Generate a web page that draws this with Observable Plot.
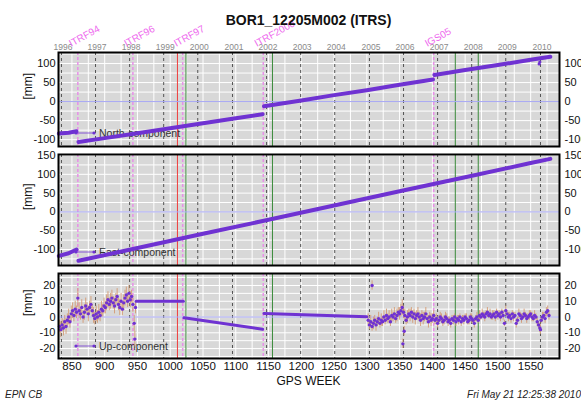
<!DOCTYPE html>
<html><head><meta charset="utf-8">
<script src="https://cdn.jsdelivr.net/npm/d3@7"></script>
<script src="https://cdn.jsdelivr.net/npm/@observablehq/plot@0.6"></script>
<style>
body{margin:0;background:#fff;font-family:"Liberation Sans",Arial,sans-serif;}
#wrap{position:relative;width:581px;height:400px;overflow:hidden;}
.abs{position:absolute;}
#title{left:58px;width:501px;top:11px;text-align:center;font-weight:bold;font-size:14px;line-height:18px;color:#111;}
#xlab{left:58px;width:501px;top:373px;text-align:center;font-size:12px;line-height:16px;color:#111;}
#fl{left:5px;top:389px;font-style:italic;font-size:10px;line-height:12px;color:#222;}
#fr{right:0px;top:389px;font-style:italic;font-size:10px;line-height:12px;color:#222;}
</style></head>
<body><div id="wrap">
<div id="p1" class="abs" style="left:0;top:0"></div>
<div id="p2" class="abs" style="left:0;top:150px"></div>
<div id="p3" class="abs" style="left:0;top:269px"></div>
<div id="title" class="abs">BOR1_12205M002 (ITRS)</div>
<div id="xlab" class="abs">GPS WEEK</div>
<div id="fl" class="abs">EPN CB</div>
<div id="fr" class="abs">Fri May 21 12:25:38 2010</div>
</div>
<script>
// ---------- data ----------
const titleText = "BOR1_12205M002 (ITRS)";
const yearLabels = ["1996","1997","1998","1999","2000","2001","2002","2003","2004","2005","2006","2007","2008","2009","2010"];
const yearWeeks  = [834, 886, 938, 990, 1042, 1095, 1147, 1199, 1251, 1304, 1356, 1408, 1460, 1512, 1565];
const frameLabels = ["ITRF94","ITRF96","ITRF97","ITRF2000","IGS05"];
const frameWeeks  = [859, 943, 1019, 1142, 1402];
const redWeeks = [1011];
const greenWeeks = [1024, 1156, 1435, 1470];
const gridWeeks = [850,875,900,925,950,975,1000,1025,1050,1075,1100,1125,1150,1175,1200,1225,1250,1275,1300,1325,1350,1375,1400,1425,1450,1475,1500,1525,1550,1575];
const xTicks = [850,900,950,1000,1050,1100,1150,1200,1250,1300,1350,1400,1450,1500,1550];
const xDomain = [829.5, 1594];

const neTicksN = [-100,-50,0,50,100];
const neTicksE = [-100,-50,0,50,100,150];
const upTicks = [-20,-10,0,10,20];
const gridN = [-100,-75,-50,-25,0,25,50,75,100,125];
const gridE = [-125,-100,-75,-50,-25,0,25,50,75,100,125,150];
const gridU = [-25,-20,-15,-10,-5,0,5,10,15,20,25];

// North component (segments split at frame changes)
const northSeg    = [1,1,1, 2,2,2,2,2,2,2, 3,3,3,3,3,3, 4,4,4,4,4];
const northWeeks  = [830,845,857, 860,900,950,1000,1050,1100,1141, 1143,1200,1250,1300,1350,1401, 1403,1450,1500,1550,1580];
const northValues = [-84,-82,-78, -106,-96,-83,-70,-57,-44,-33, -12,3,17,30,44,58, 70,83,96,110,118];
const northOutWeeks = [1563, 1564];
const northOutValues = [99, 104];

// East component
const eastSeg    = [1,1,1, 2,2,2,2,2,2,2,2,2];
const eastWeeks  = [830,845,857, 860,950,1050,1150,1250,1350,1450,1550,1580];
const eastValues = [-117,-110,-100, -130,-96,-58,-21,17,55,92,130,141];

// Up component: model segments
const upModelSeg    = [1,1, 2,2, 3,3];
const upModelWeeks  = [948,1020, 1021,1141, 1143,1300];
const upModelValues = [10,10, -0.5,-7.8, 2.3,0.2];

// Up component: observations with error bars
const upWeeks = [
 831,833,835,837,839,841,843,845,847,849,851,853,855,857,859,861,863,865,867,869,
 871,873,875,877,879,881,883,885,887,889,891,893,895,897,899,901,903,905,907,909,
 911,913,915,917,919,921,923,925,927,929,931,933,935,937,939,941,943,945,946,947,
 1302,1304,1306,1308,1308,1310,1312,1314,1316,1318,1320,1322,1324,1326,1328,1330,1332,1334,1336,1338,
 1340,1342,1344,1346,1348,1350,1352,1354,1355,1356,1357,1358,1360,1362,1364,1366,1368,1370,1372,1374,
 1376,1378,1380,1382,1384,1386,1388,1390,1392,1394,1396,1398,1400,1402,1404,1406,1408,1410,1412,1414,
 1416,1418,1420,1422,1424,1426,1428,1430,1432,1434,1436,1438,1440,1442,1444,1446,1448,1450,1452,1454,
 1456,1458,1460,1462,1464,1466,1468,1470,1472,1474,1476,1478,1480,1482,1484,1486,1488,1490,1492,1494,
 1496,1498,1500,1502,1504,1506,1508,1510,1512,1514,1516,1518,1520,1522,1524,1526,1528,1530,1532,1534,
 1536,1538,1540,1542,1544,1546,1548,1550,1552,1554,1556,1558,1560,1562,1564,1565,1566,1568,1570,1572,
 1574,1576,1578];
const upValues = [
 -6,-8,-5,-7,-3,-6,-2,0,-3,2,4,1,5,3,12,4,2,6,0,3,
 7,5,2,6,8,4,1,-1,2,0,3,1,5,4,7,6,9,11,8,10,
 12,9,7,11,13,8,6,10,5,9,12,14,10,15,11,13,8,-4,-14,6,
 -2,-5,-3,-6,20,-4,-2,-5,-3,-1,-4,-2,-3,0,-2,1,-1,0,-3,1,
 0,2,-1,1,3,2,4,6,-17,3,-9,1,-2,0,2,1,3,0,2,-1,
 1,2,0,-2,1,-1,0,2,-1,-3,0,-2,-1,1,-2,-1,-4,-2,0,-1,
 -3,-2,0,-1,-3,-2,-4,-1,-2,0,-3,-1,-2,0,-3,-1,-2,0,-1,-3,
 -2,0,-1,-2,-4,-1,0,-2,1,0,2,1,0,2,3,1,2,0,1,2,
 0,3,1,2,0,3,1,-4,4,2,0,1,-1,2,0,1,-4,-2,2,1,
 -1,0,2,1,-1,0,1,2,0,-1,1,0,-3,-5,-7,-8,-2,0,1,-1,
 3,4,1];
const upErrors = [
 4,5,4,5,4,5,4,5,4,5,5,4,5,4,6,5,4,5,4,5,
 5,4,5,4,5,4,5,4,5,4,5,4,5,4,5,4,5,5,4,5,
 5,4,5,4,5,4,5,5,4,5,5,5,4,5,5,4,5,5,5,4,
 4,3,4,3,3,4,3,4,3,4,3,4,3,4,3,4,3,4,3,4,
 3,4,3,4,3,4,4,5,3,4,3,4,3,4,3,4,3,4,3,4,
 3,4,3,4,3,4,3,4,3,4,3,4,3,3,3,3,3,3,3,3,
 3,3,3,3,3,2,3,2,3,2,3,2,3,2,3,2,3,2,3,2,
 3,2,3,2,3,2,3,2,3,2,3,2,3,2,3,2,3,2,3,2,
 3,2,3,2,3,2,3,2,3,2,3,2,3,2,3,2,3,2,3,2,
 3,2,3,2,3,2,3,2,3,2,3,2,3,2,3,3,2,3,2,3,
 3,3,3];

const panelNames = ["North-component","East-component","Up-component"];

// ---------- styling ----------
const purple = "#6f32d2";
const bg = "#d8d8d8";
const fontFamily = "'Liberation Sans', Arial, Helvetica, sans-serif";

const north = northWeeks.map((w,i)=>({w, v:northValues[i], s:northSeg[i]}));
const northOut = northOutWeeks.map((w,i)=>({w, v:northOutValues[i]}));
const east = eastWeeks.map((w,i)=>({w, v:eastValues[i], s:eastSeg[i]}));
const upModel = upModelWeeks.map((w,i)=>({w, v:upModelValues[i], s:upModelSeg[i]}));
const upObs = upWeeks.map((w,i)=>({w, v:upValues[i], e:upErrors[i]}));
const years = yearWeeks.map((w,i)=>({w, label:yearLabels[i]}));

function legendMark(label, up) {
  return (index, scales, values, dims) => {
    const g = d3.create("svg:g");
    const y = dims.height - dims.marginBottom - up;
    const x0 = dims.marginLeft + 18, x1 = dims.marginLeft + 36;
    g.append("line").attr("x1",x0).attr("x2",x1).attr("y1",y).attr("y2",y)
      .attr("stroke",purple).attr("stroke-width",0.8);
    g.append("circle").attr("cx",x0).attr("cy",y).attr("r",1.6).attr("fill",purple);
    g.append("circle").attr("cx",x1).attr("cy",y).attr("r",1.6).attr("fill",purple);
    g.append("text").attr("x",dims.marginLeft+41).attr("y",y).attr("dy","0.35em")
      .attr("text-anchor","start")
      .attr("font-size",10.5).attr("fill","#333").attr("font-family",fontFamily).text(label);
    return g.node();
  };
}

// rotated reference-frame labels, positioned with the x scale
function frameLabelMark(index, scales, values, dims) {
  const g = d3.create("svg:g");
  frameWeeks.forEach((w, i) => {
    const x = scales.x(w) - 6, y = dims.marginTop - 5;
    g.append("text")
      .attr("transform", `translate(${x},${y}) rotate(-29)`)
      .attr("text-anchor", "start")
      .attr("font-size", 10).attr("font-family", fontFamily)
      .attr("fill", "#ee6aee")
      .text(frameLabels[i]);
  });
  return g.node();
}

function backgroundMarks(gridY) {
  return [
    Plot.frame({fill: bg}),
    Plot.ruleX(gridWeeks, {stroke: "white", strokeWidth: 1}),
    Plot.ruleY(gridY, {stroke: "white", strokeWidth: 1}),
    Plot.ruleX(yearWeeks, {stroke: "#444", strokeWidth: 0.9, strokeDasharray: "3,3"}),
    Plot.ruleX(frameWeeks, {stroke: "#e890e8", strokeWidth: 1.5, strokeDasharray: "3,2"}),
    Plot.ruleX(redWeeks, {stroke: "#f03c3c", strokeWidth: 1}),
    Plot.ruleX(greenWeeks, {stroke: "#3a8a3a", strokeWidth: 1}),
    Plot.ruleY([0], {stroke: "#a4a4f2", strokeWidth: 1})
  ];
}
function axisMarks(ticks) {
  return [
    Plot.frame({stroke: "black", strokeWidth: 2}),
    Plot.axisY(ticks, {anchor: "left", tickSize: 0, tickPadding: 3, label: null, fontSize: 11, tickFormat: d => String(d)}),
    Plot.axisY(ticks, {anchor: "right", tickSize: 0, tickPadding: 5, label: null, fontSize: 11, tickFormat: d => String(d)}),
    Plot.text(["[mm]"], {frameAnchor: "left", dx: -30, rotate: -90, fontSize: 12, fill: "#111"})
  ];
}
const common = {
  width: 581, marginLeft: 58, marginRight: 22,
  style: {fontFamily, fontSize: "11px", color: "#111", background: "transparent", overflow: "visible"}
};

// ---------- panel 1: North ----------
const p1 = Plot.plot({
  ...common, height: 150, marginTop: 52, marginBottom: 4,
  x: {domain: xDomain, axis: null},
  y: {domain: [-118, 129]},
  marks: [
    ...backgroundMarks(gridN),
    legendMark(panelNames[0], 13),
    Plot.line(north, {x: "w", y: "v", z: "s", stroke: purple, strokeWidth: 4}),
    Plot.dot(northOut, {x: "w", y: "v", r: 1.6, fill: purple}),
    ...axisMarks(neTicksN),
    Plot.text(years, {x: "w", text: "label", frameAnchor: "top", dy: -5, dx: 1.5, lineAnchor: "middle",
      fontSize: 8.5, fill: "#8a8a8a", style: "letter-spacing:0.6px"}),
    frameLabelMark
  ]
});
document.getElementById("p1").append(p1);

// ---------- panel 2: East ----------
const p2 = Plot.plot({
  ...common, height: 119, marginTop: 4, marginBottom: 4,
  x: {domain: xDomain, axis: null},
  y: {domain: [-142.5, 152.7]},
  marks: [
    ...backgroundMarks(gridE),
    legendMark(panelNames[1], 13),
    Plot.line(east, {x: "w", y: "v", z: "s", stroke: purple, strokeWidth: 4}),
    ...axisMarks(neTicksE)
  ]
});
document.getElementById("p2").append(p2);

// ---------- panel 3: Up ----------
const p3 = Plot.plot({
  ...common, height: 110, marginTop: 4, marginBottom: 21,
  x: {domain: xDomain},
  y: {domain: [-26.3, 27.6]},
  marks: [
    ...backgroundMarks(gridU),
    legendMark(panelNames[2], 12),
    Plot.ruleX(upObs, {x: "w", y1: d => d.v - d.e, y2: d => d.v + d.e, stroke: "#d49a72", strokeWidth: 1, strokeOpacity: 0.9}),
    Plot.line(upModel, {x: "w", y: "v", z: "s", stroke: purple, strokeWidth: 3}),
    Plot.dot(upObs, {x: "w", y: "v", r: 1.7, fill: purple}),
    ...axisMarks(upTicks),
    Plot.axisX(xTicks, {anchor: "bottom", tickSize: 0, tickPadding: 3, label: null, fontSize: 11.5, tickFormat: d => String(d)})
  ]
});
document.getElementById("p3").append(p3);
document.getElementById("title").textContent = titleText;
</script>
</body></html>
